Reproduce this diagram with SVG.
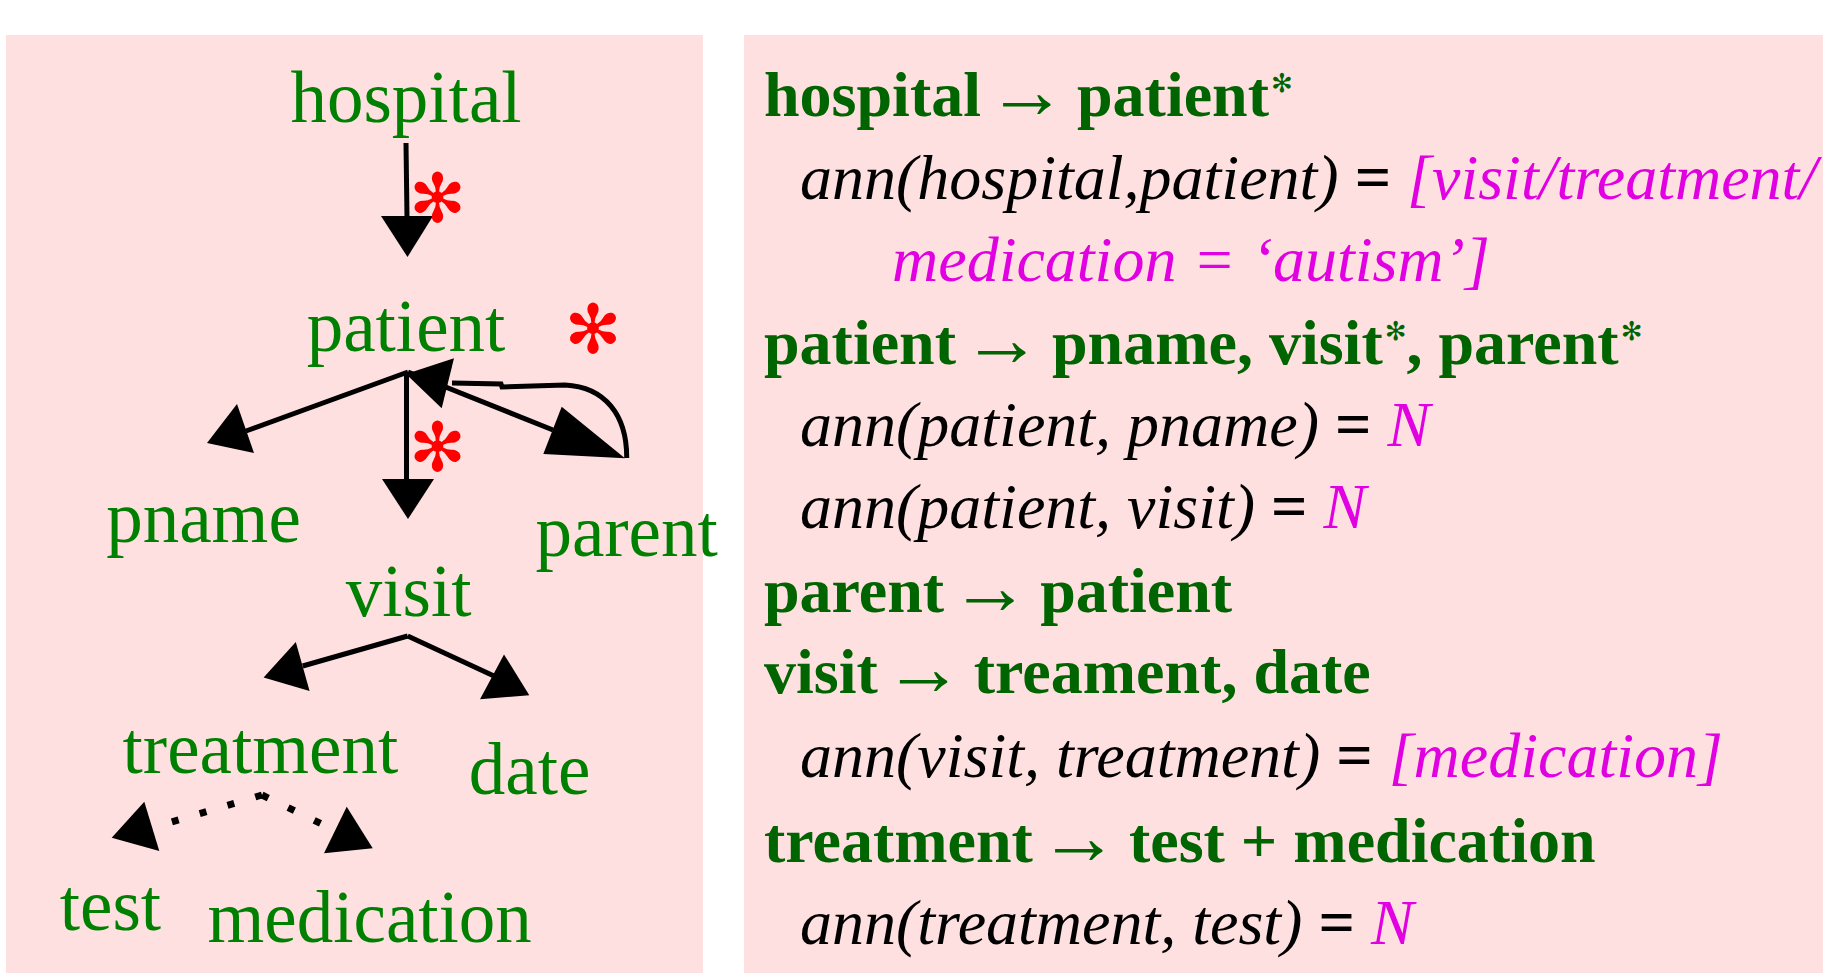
<svg xmlns="http://www.w3.org/2000/svg" width="1823" height="973" viewBox="0 0 1823 973">
<style>
.bg{fill:#FFE0E0}
.lbl{font-family:"Liberation Serif","Times New Roman",serif;font-size:73px;fill:#008000;text-anchor:middle}
.ast{font-family:"DejaVu Sans",sans-serif;font-size:68px;fill:#FF0000;text-anchor:middle}
.ln{stroke:#000;stroke-width:5;fill:none}
.dot{stroke:#000;stroke-width:7;fill:none;stroke-dasharray:7 22}
.hd{fill:#000}
.r{font-family:"Liberation Serif","Times New Roman","DejaVu Serif",serif;font-size:64px}
.b{font-weight:bold;fill:#006400}
.ar{font-weight:normal;fill:#006400;font-size:80px}
.sup{font-family:"DejaVu Sans",sans-serif;font-weight:normal;fill:#006400;font-size:26px}
.i{font-style:italic;fill:#000}
.eq{font-style:normal;font-weight:bold;fill:#000}
.m{font-style:italic;fill:#E100E1}
</style>
<rect class="bg" x="6" y="35" width="697" height="938"/>
<rect class="bg" x="744" y="35" width="1079" height="938"/>

<g id="connectors">
  <line class="ln" x1="406" y1="143" x2="407" y2="218"/>
  <polygon class="hd" points="381,216 433,216 407.5,257"/>
  <line class="ln" x1="408" y1="372" x2="246" y2="431"/>
  <polygon class="hd" points="237,404 207,443 254,453"/>
  <line class="ln" x1="406.5" y1="372" x2="406.5" y2="480"/>
  <polygon class="hd" points="382,479 434,479 408,519"/>
  <line class="ln" x1="408" y1="372" x2="553" y2="430"/>
  <polygon class="hd" points="561.7,406.7 543.3,454 625,458.3"/>
  <path class="ln" d="M626.7,458 C627,415 605,387 565,385 L502,387 L501,384 L452,383"/>
  <polygon class="hd" points="454,358.3 441.7,408.3 406,374"/>
  <line class="ln" x1="407.7" y1="636" x2="302.7" y2="666"/>
  <polygon class="hd" points="295.8,642 263.6,677.6 309.6,691"/>
  <line class="ln" x1="407.7" y1="636" x2="494" y2="676"/>
  <polygon class="hd" points="504,654.4 480,699.2 529.3,695.2"/>
  <line class="dot" x1="262" y1="795" x2="168" y2="823"/>
  <polygon class="hd" points="144.3,801.7 111.7,837.7 159.3,851"/>
  <line class="dot" x1="262" y1="795" x2="326" y2="826"/>
  <polygon class="hd" points="346.7,806.7 324,853.3 372.7,848.3"/>
  <text class="ast" x="437.5" y="222">✻</text>
  <text class="ast" x="593" y="353">✻</text>
  <text class="ast" x="437.5" y="471">✻</text>
</g>

<g id="n-hospital"><text class="lbl" x="406" y="122">hospital</text></g>
<g id="n-patient"><text class="lbl" x="406" y="351">patient</text></g>
<g id="n-pname"><text class="lbl" x="203.5" y="542">pname</text></g>
<g id="n-parent"><text class="lbl" x="626.6" y="556">parent</text></g>
<g id="n-visit"><text class="lbl" x="408.6" y="616">visit</text></g>
<g id="n-treatment"><text class="lbl" x="260.4" y="773">treatment</text></g>
<g id="n-date"><text class="lbl" x="529.6" y="794">date</text></g>
<g id="n-test"><text class="lbl" x="110.4" y="930">test</text></g>
<g id="n-medication"><text class="lbl" x="369.7" y="942">medication</text></g>

<g id="rules" class="r">
  <text x="764" y="116"><tspan class="b">hospital</tspan><tspan class="ar" dx="6" dy="2">→</tspan><tspan class="b" dx="-6" dy="-2"> patient</tspan><tspan class="sup" dx="2" dy="-24">✻</tspan></text>
  <text x="800" y="199"><tspan class="i">ann(hospital,patient)</tspan><tspan class="eq"> = </tspan><tspan class="m">[visit/treatment/</tspan></text>
  <text x="892" y="281"><tspan class="m">medication = ‘autism’]</tspan></text>
  <text x="764" y="364"><tspan class="b">patient</tspan><tspan class="ar" dx="6" dy="2">→</tspan><tspan class="b" dx="-6" dy="-2"> pname, visit</tspan><tspan class="sup" dx="2" dy="-24">✻</tspan><tspan class="b" dy="24">, parent</tspan><tspan class="sup" dx="2" dy="-24">✻</tspan></text>
  <text x="800" y="446"><tspan class="i">ann(patient, pname)</tspan><tspan class="eq"> = </tspan><tspan class="m">N</tspan></text>
  <text x="800" y="528"><tspan class="i">ann(patient, visit)</tspan><tspan class="eq"> = </tspan><tspan class="m">N</tspan></text>
  <text x="764" y="612"><tspan class="b">parent</tspan><tspan class="ar" dx="6" dy="2">→</tspan><tspan class="b" dx="-6" dy="-2"> patient</tspan></text>
  <text x="764" y="693"><tspan class="b">visit</tspan><tspan class="ar" dx="6" dy="2">→</tspan><tspan class="b" dx="-6" dy="-2"> treament, date</tspan></text>
  <text x="800" y="777"><tspan class="i">ann(visit, treatment)</tspan><tspan class="eq"> = </tspan><tspan class="m">[medication]</tspan></text>
  <text x="764" y="862"><tspan class="b">treatment</tspan><tspan class="ar" dx="6" dy="2">→</tspan><tspan class="b" dx="-6" dy="-2"> test + medication</tspan></text>
  <text x="800" y="944"><tspan class="i">ann(treatment, test)</tspan><tspan class="eq"> = </tspan><tspan class="m">N</tspan></text>
</g>
</svg>
